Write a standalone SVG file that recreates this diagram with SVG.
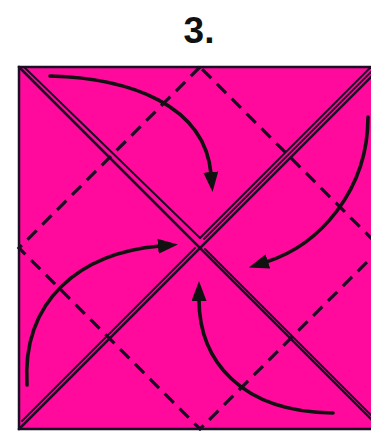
<svg xmlns="http://www.w3.org/2000/svg" width="371" height="431" viewBox="0 0 371 431">
  <defs>
    <style>
      .paper{fill:#ff0a9c;stroke:#1b0d24;stroke-width:2.5}
      .crease{fill:none;stroke:#1b0d24;stroke-width:3.2;stroke-dasharray:13 8}
      .edge{fill:none;stroke:#1b0d24;stroke-width:2.6;stroke-linecap:round}
      .thin{fill:none;stroke:#1b0d24;stroke-width:1.9;stroke-linecap:round}
      .arrow{fill:none;stroke:#111;stroke-width:3.6;stroke-linecap:round;marker-end:url(#head)}
      .title{font-family:"Liberation Sans",Arial,sans-serif;font-weight:bold;font-size:37px;fill:#111}
    </style>
    <marker id="head" viewBox="0 0 20 15" refX="2" refY="7.5" markerWidth="20" markerHeight="15" markerUnits="userSpaceOnUse" orient="auto">
      <path d="M0,0 L20,7.5 L0,15 Z" fill="#111"/>
    </marker>
  </defs>
  <rect width="371" height="431" fill="#ffffff"/>
  <text class="title" x="199" y="43" text-anchor="middle">3.</text>
  <g id="paper">
    <rect class="paper" x="19" y="67" width="362" height="362"/>
  </g>
  <g id="creases">
    <path class="crease" d="M200,67 L19,248 L200,429 L381,248 Z"/>
  </g>
  <g id="diagonals">
    <line class="edge" x1="19" y1="67" x2="381" y2="429"/>
    <line class="edge" x1="19" y1="429" x2="381" y2="67"/>
    <line class="thin" x1="24" y1="67" x2="200" y2="238"/>
    <line class="thin" x1="200" y1="238" x2="371" y2="67"/>
    <line class="thin" x1="204" y1="239" x2="371" y2="72"/>
    <line class="thin" x1="205" y1="249" x2="371" y2="415"/>
    <line class="thin" x1="195" y1="248" x2="22" y2="421"/>
  </g>
  <g id="arrows">
    <path id="arrow-top" class="arrow" d="M50,76 C130,78 205,105 211,174"/>
    <path id="arrow-right" class="arrow" d="M368,117 C368,190 320,245 266,262"/>
    <path id="arrow-left" class="arrow" d="M27,385 C22,300 80,253 160,246"/>
    <path id="arrow-bottom" class="arrow" d="M333,413 C240,412 199,360 199,299"/>
  </g>
</svg>
